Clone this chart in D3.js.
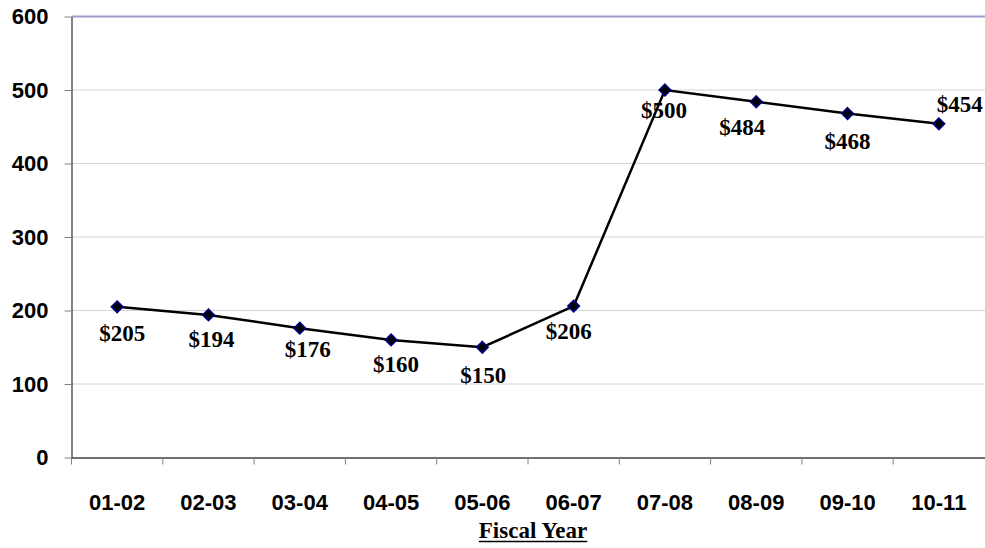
<!DOCTYPE html>
<html>
<head>
<meta charset="utf-8">
<script src="https://cdn.jsdelivr.net/npm/d3@7"></script>
<style>
  html, body { margin: 0; padding: 0; background: #fff; }
  svg { display: block; }
</style>
</head>
<body>
<svg id="chart" width="985" height="548"></svg>
<script>
// Fiscal years and yearly amounts (dollars)
const fiscalYears = ["01-02", "02-03", "03-04", "04-05", "05-06", "06-07", "07-08", "08-09", "09-10", "10-11"];
const amounts = [205, 194, 176, 160, 150, 206, 500, 484, 468, 454];
const yTicks = [0, 100, 200, 300, 400, 500, 600];
const xAxisTitle = "Fiscal Year";

// Hand-placed label nudges (dx, dy of baseline from the marker)
const labelNudge = [
  [5, 34], [3, 32], [8, 29], [5, 32], [1, 36],
  [-5, 33], [-1, 28], [-14, 33], [0, 35], [21, -12]
];

const svg = d3.select("#chart");
const plot = { left: 71.5, right: 984.5, top: 16.5, bottom: 457.5 };

const x = d3.scaleBand().domain(fiscalYears).range([plot.left, plot.right]).padding(0);
const y = d3.scaleLinear().domain([0, 600]).range([plot.bottom, plot.top]);

// Horizontal gridlines
svg.append("g")
  .selectAll("line")
  .data(yTicks.filter(d => d > 0))
  .join("line")
  .attr("x1", plot.left).attr("x2", plot.right + 1)
  .attr("y1", d => y(d)).attr("y2", d => y(d))
  .attr("stroke", d => d === 600 ? "#9c9ccc" : "#d4d4d4")
  .attr("stroke-width", d => d === 600 ? 2 : 1);

// Y axis
const yAxis = svg.append("g")
  .attr("transform", `translate(${plot.left},0)`)
  .call(d3.axisLeft(y).tickValues(yTicks).tickSize(7).tickPadding(16).tickSizeOuter(0));
yAxis.select(".domain").attr("stroke", "#404040").attr("stroke-width", 1.3);
yAxis.selectAll(".tick line").attr("stroke", "#808080");
yAxis.selectAll(".tick text")
  .attr("fill", "#000")
  .style("font-family", "'Liberation Sans', Arial, sans-serif")
  .style("font-weight", "bold")
  .style("font-size", "22px");

// X axis: ticks on category boundaries
const xAxis = svg.append("g")
  .attr("transform", `translate(0,${plot.bottom})`)
  .call(d3.axisBottom(x).tickSize(0).tickPadding(37));
xAxis.select(".domain").attr("stroke", "#404040").attr("stroke-width", 1.6);
xAxis.selectAll(".tick text")
  .attr("fill", "#000")
  .style("font-family", "'Liberation Sans', Arial, sans-serif")
  .style("font-weight", "bold")
  .style("font-size", "22px");

svg.append("g")
  .selectAll("line")
  .data(fiscalYears)
  .join("line")
  .attr("x1", d => x(d)).attr("x2", d => x(d))
  .attr("y1", plot.bottom).attr("y2", plot.bottom + 7)
  .attr("stroke", "#808080");

// Axis title, underlined
const title = svg.append("text")
  .attr("x", 533).attr("y", 538)
  .attr("text-anchor", "middle")
  .style("font-family", "'Liberation Serif', 'Times New Roman', serif")
  .style("font-weight", "bold")
  .style("font-size", "23px")
  .text(xAxisTitle);
const tb = title.node().getBBox();
svg.append("line")
  .attr("x1", tb.x).attr("x2", tb.x + tb.width)
  .attr("y1", 541.5).attr("y2", 541.5)
  .attr("stroke", "#000").attr("stroke-width", 1.6);

const cx = d => x(d) + x.bandwidth() / 2;
const pts = fiscalYears.map((d, i) => ({ year: d, value: amounts[i], i }));

// Line
svg.append("path")
  .datum(pts)
  .attr("fill", "none")
  .attr("stroke", "#000")
  .attr("stroke-width", 2.5)
  .attr("d", d3.line().x(d => cx(d.year)).y(d => y(d.value)));

// Diamond markers
svg.append("g")
  .selectAll("path")
  .data(pts)
  .join("path")
  .attr("transform", d => `translate(${cx(d.year)},${y(d.value)})`)
  .attr("d", d3.symbol(d3.symbolDiamond2, 85)())
  .attr("fill", "#000")
  .attr("stroke", "#000080")
  .attr("stroke-width", 1.6);

// Value labels
svg.append("g")
  .selectAll("text")
  .data(pts)
  .join("text")
  .attr("x", d => cx(d.year) + labelNudge[d.i][0])
  .attr("y", d => y(d.value) + labelNudge[d.i][1])
  .attr("text-anchor", "middle")
  .style("font-family", "'Liberation Serif', 'Times New Roman', serif")
  .style("font-weight", "bold")
  .style("font-size", "23px")
  .text(d => "$" + d.value);
</script>
</body>
</html>
